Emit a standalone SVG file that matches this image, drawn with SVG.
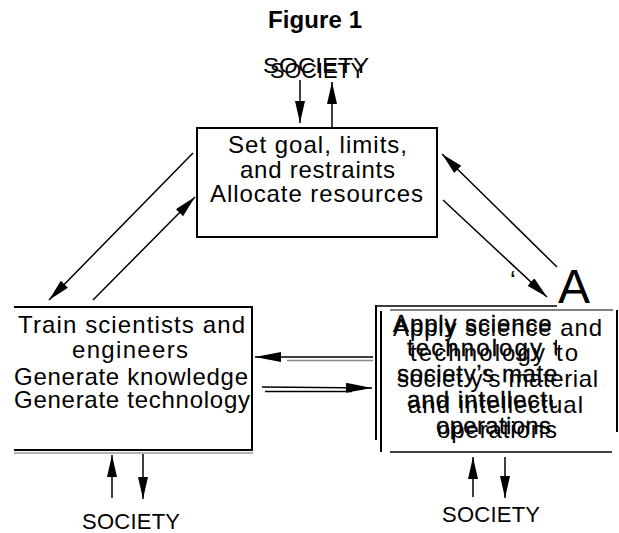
<svg xmlns="http://www.w3.org/2000/svg" width="619" height="533" viewBox="0 0 619 533">
<style>
text{font-family:"Liberation Sans",Arial,sans-serif;fill:#000}
.t{font-size:24px}
.tb{font-size:24px;stroke:#000;stroke-width:0.3}
.soc{font-size:22px}
.box{fill:none;stroke:#000;stroke-width:2}
.ln{fill:none;stroke:#000;stroke-width:1.5}
.gr{fill:none;stroke:#888;stroke-width:1.5}
</style>
<defs>
<marker id="ah" markerUnits="userSpaceOnUse" markerWidth="24" markerHeight="12" refX="22" refY="5" orient="auto">
<path d="M0,0 L22,5 L0,10 Z" fill="#000"/>
</marker>
<marker id="ahl" markerUnits="userSpaceOnUse" markerWidth="28" markerHeight="12" refX="26" refY="5" orient="auto">
<path d="M0,0 L26,5 L0,10 Z" fill="#000"/>
</marker>
<clipPath id="clipA"><rect x="380" y="300" width="177" height="150"/></clipPath>
</defs>
<rect width="619" height="533" fill="#fff"/>

<g id="title"><text x="268" y="28" font-size="24" font-weight="bold" textLength="94">Figure 1</text></g>

<g id="society-top">
<text class="soc" x="263" y="73" textLength="106" lengthAdjust="spacingAndGlyphs">SOCIETY</text>
<text class="soc" x="270" y="78" textLength="95" lengthAdjust="spacingAndGlyphs">SOCIETY</text>
</g>

<g id="box-goals">
<rect class="box" x="197" y="128" width="240" height="109"/>
<text class="t" x="228" y="153" textLength="179">Set goal, limits,</text>
<text class="t" x="240" y="178" textLength="155">and restraints</text>
<text class="t" x="210" y="202" textLength="213">Allocate resources</text>
</g>

<g id="box-train">
<path class="box" d="M14,307 H252 V450"/>
<line x1="14" y1="450" x2="253" y2="450" stroke="#000" stroke-width="2"/>
<line x1="14" y1="453" x2="253" y2="453" stroke="#999" stroke-width="1.5"/>
<text class="t" x="18" y="333" textLength="227">Train scientists and</text>
<text class="t" x="72" y="358" textLength="116">engineers</text>
<text class="t" x="14" y="385" textLength="234">Generate knowledge</text>
<text class="t" x="14" y="408" textLength="236">Generate technology</text>
</g>

<g id="box-apply">
<line x1="376" y1="305" x2="376" y2="440" stroke="#000" stroke-width="2"/>
<line x1="381" y1="311" x2="381" y2="452" stroke="#000" stroke-width="2"/>
<line x1="376" y1="306" x2="557" y2="306" stroke="#000" stroke-width="1.5"/>
<line x1="390" y1="310" x2="613" y2="310" stroke="#555" stroke-width="1.5"/>
<line x1="617" y1="310" x2="617" y2="432" stroke="#000" stroke-width="2"/>
<line x1="390" y1="452" x2="612" y2="452" stroke="#000" stroke-width="1.5"/>
<g clip-path="url(#clipA)">
<text class="tb" x="393" y="332" textLength="209">Apply science and</text>
<text class="tb" x="407" y="356" textLength="168">technology to</text>
<text class="tb" x="397" y="382" textLength="195">society’s material</text>
<text class="tb" x="407" y="408" textLength="175">and intellectual</text>
<text class="tb" x="436" y="434" textLength="115">operations</text>
</g>
<text class="t" x="393" y="336" textLength="209">Apply science and</text>
<text class="t" x="410" y="361" textLength="168">technology to</text>
<text class="t" x="397" y="387" textLength="201">societ y’s material</text>
<text class="t" x="408" y="413" textLength="175">and intellectual</text>
<text class="t" x="437" y="438" textLength="120">operations</text>
</g>

<g id="label-a">
<text x="558" y="303" font-size="48" textLength="32">A</text>
<text x="510" y="289" font-size="26">‘</text>
</g>

<g id="society-bl"><text class="soc" x="82" y="529" textLength="98">SOCIETY</text></g>
<g id="society-br"><text class="soc" x="442" y="522" textLength="98">SOCIETY</text></g>

<g id="connectors">
<line class="ln" x1="300" y1="80" x2="300" y2="123" marker-end="url(#ah)"/>
<line class="ln" x1="332" y1="127" x2="332" y2="82" marker-end="url(#ah)"/>
<line class="ln" x1="193" y1="153" x2="49" y2="300" marker-end="url(#ah)"/>
<line class="ln" x1="93" y1="300" x2="195" y2="197" marker-end="url(#ah)"/>
<line class="ln" x1="557" y1="267" x2="442" y2="154" marker-end="url(#ah)"/>
<line class="ln" x1="443" y1="200" x2="547" y2="297" marker-end="url(#ah)"/>
<line class="ln" x1="373" y1="357" x2="255" y2="357" marker-end="url(#ahl)"/>
<line class="gr" x1="287" y1="360.5" x2="373" y2="360.5"/>
<line class="ln" x1="262" y1="387" x2="372" y2="388" marker-end="url(#ahl)"/>
<line class="ln" x1="265" y1="391.5" x2="352" y2="391.5"/>
<line class="ln" x1="112" y1="498" x2="112" y2="455" marker-end="url(#ah)"/>
<line class="ln" x1="143" y1="454" x2="143" y2="499" marker-end="url(#ah)"/>
<line class="ln" x1="473" y1="497" x2="473" y2="457" marker-end="url(#ah)"/>
<line class="ln" x1="505" y1="457" x2="505" y2="498" marker-end="url(#ah)"/>
</g>
</svg>
